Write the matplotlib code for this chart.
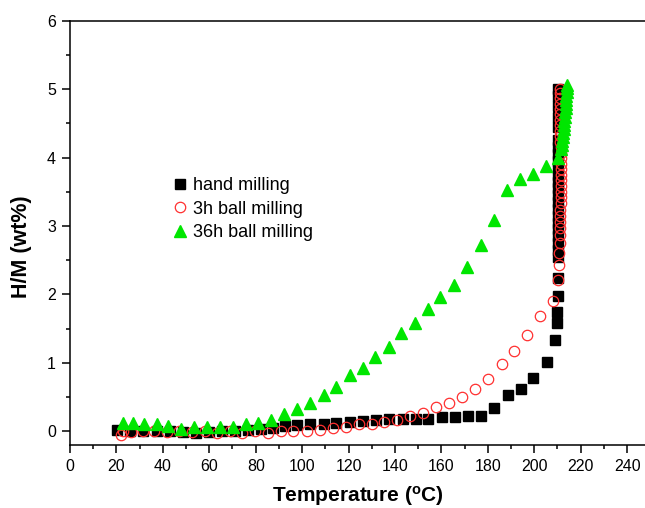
import numpy as np
import matplotlib
matplotlib.use("Agg")
import matplotlib.pyplot as plt
from matplotlib.ticker import MultipleLocator

plt.rcParams["font.family"] = ["Liberation Sans", "DejaVu Sans"]
plt.rcParams["mathtext.fontset"] = "custom"
plt.rcParams["mathtext.rm"] = "Liberation Sans"
plt.rcParams["mathtext.bf"] = "Liberation Sans:bold"

# hand milling (black squares)
hand_T = [20.3, 26.0, 31.6, 37.3, 42.9, 48.5, 54.2, 59.8, 65.5, 71.1, 76.8, 82.4, 87.5,
          92.7, 98.0, 103.6, 109.3, 114.6, 120.6, 126.4, 131.8, 137.6, 143.3, 149.1,
          154.4, 160.1, 165.9, 171.3, 177.1, 182.8, 188.6, 194.2, 199.6, 205.5,
          209.0, 209.7, 210.0, 210.2, 210.2, 210.2, 210.2, 210.2, 210.2, 210.2, 210.2,
          210.2, 210.2, 210.2, 210.2, 210.2, 210.2, 210.2, 210.2, 210.2, 210.2, 210.2,
          210.2, 210.2, 210.2, 210.2, 210.2, 210.2]
hand_HM = [0.02, 0.01, 0.0, 0.0, 0.0, -0.01, -0.02, -0.01, 0.0, 0.01, 0.02, 0.03, 0.05,
           0.08, 0.09, 0.10, 0.11, 0.12, 0.13, 0.15, 0.17, 0.185, 0.185, 0.185,
           0.185, 0.205, 0.205, 0.22, 0.23, 0.34, 0.53, 0.62, 0.78, 1.01,
           1.34, 1.58, 1.74, 1.97, 2.24, 2.55, 2.65, 2.75, 2.85, 2.95, 3.05,
           3.15, 3.25, 3.35, 3.45, 3.55, 3.65, 3.75, 3.85, 3.95, 4.05, 4.15,
           4.25, 4.45, 4.6, 4.75, 4.9, 5.0]

# 3h ball milling (open red circles)
ball3_T = [22.0, 23.0, 26.1, 31.4, 36.4, 41.7, 46.9, 52.4, 58.2, 63.2, 69.1, 74.0, 79.7,
           85.4, 90.9, 96.2, 101.9, 107.7, 113.4, 118.9, 124.5, 130.0, 135.4, 141.0,
           146.5, 152.2, 157.7, 163.3, 169.0, 174.5, 180.2, 186.0, 191.3, 197.0,
           202.5, 208.2, 210.1, 210.6, 210.8, 211.0, 211.1, 211.1, 211.2, 211.2,
           211.2, 211.3, 211.3, 211.3, 211.3, 211.3, 211.3, 211.3, 211.3, 211.3,
           211.3, 211.3, 211.2, 211.2, 211.2, 211.1, 211.1, 211.1, 211.0, 211.0,
           211.0, 211.0, 211.0]
ball3_HM = [-0.05, 0.0, -0.01, 0.0, 0.0, -0.01, 0.0, -0.01, 0.0, -0.02, 0.0, -0.02, 0.0,
            -0.02, 0.0, 0.0, 0.0, 0.02, 0.05, 0.07, 0.10, 0.11, 0.13, 0.17,
            0.22, 0.27, 0.35, 0.42, 0.50, 0.62, 0.76, 0.98, 1.18, 1.41,
            1.68, 1.90, 2.21, 2.43, 2.60, 2.75, 2.87, 2.97, 3.06, 3.14,
            3.23, 3.33, 3.42, 3.50, 3.58, 3.67, 3.75, 3.83, 3.91, 3.99,
            4.07, 4.15, 4.23, 4.31, 4.39, 4.47, 4.55, 4.63, 4.71, 4.79,
            4.87, 4.95, 5.00]

# 36h ball milling (green triangles)
ball36_T = [23.0, 27.0, 32.0, 37.3, 42.4, 47.9, 53.4, 59.2, 64.6, 70.4, 75.8, 81.1,
            86.6, 92.2, 97.7, 103.6, 109.3, 114.8, 120.5, 126.2, 131.5, 137.3, 142.8,
            148.5, 154.1, 159.5, 165.3, 171.0, 176.9, 182.5, 188.2, 194.0, 199.3,
            205.2, 210.4, 211.5, 211.8, 212.0, 212.2, 212.4, 212.6, 212.8, 213.0,
            213.2, 213.3, 213.5, 213.6, 213.7, 213.8, 213.9, 214.0, 214.1]
ball36_HM = [0.12, 0.12, 0.11, 0.11, 0.08, 0.04, 0.07, 0.06, 0.07, 0.07, 0.11, 0.12,
             0.16, 0.26, 0.33, 0.42, 0.53, 0.65, 0.82, 0.93, 1.09, 1.23, 1.44,
             1.59, 1.78, 1.96, 2.14, 2.40, 2.72, 3.09, 3.52, 3.69, 3.76,
             3.88, 3.99, 4.12, 4.18, 4.24, 4.30, 4.36, 4.42, 4.48, 4.54,
             4.60, 4.66, 4.72, 4.78, 4.84, 4.90, 4.96, 5.02, 5.06]

fig = plt.figure(figsize=(6.45, 5.08), dpi=100)
ax = fig.add_axes([70 / 645, 1 - 445 / 508, 1 - 70 / 645, (445 - 20.7) / 508])

ax.plot(hand_T, hand_HM, "s", color="black", markersize=6.5, label="hand milling")
ax.plot(ball3_T, ball3_HM, "o", markerfacecolor="none", markeredgecolor="#ff3030",
        markeredgewidth=0.9, markersize=7.5, label="3h ball milling")
ax.plot(ball36_T, ball36_HM, "^", color="#00e600", markersize=8.5,
        label="36h ball milling")

ax.set_xlim(0, 247.7)
ax.set_ylim(-0.2, 6)
ax.xaxis.set_major_locator(MultipleLocator(20))
ax.xaxis.set_minor_locator(MultipleLocator(10))
ax.yaxis.set_major_locator(MultipleLocator(1))
ax.yaxis.set_minor_locator(MultipleLocator(0.5))
ax.tick_params(which="major", direction="out", length=6, width=1.1, labelsize=11.5, pad=4)
ax.tick_params(which="minor", direction="out", length=3, width=1.1)
ax.spines["right"].set_visible(False)
for s in ("left", "bottom", "top"):
    ax.spines[s].set_linewidth(1.1)

ax.set_xlabel(r"Temperature ($\mathbf{^{o}}$C)", fontsize=15, fontweight="bold")
ax.set_ylabel("H/M (wt%)", fontsize=15.5, fontweight="bold")
ax.yaxis.set_label_coords(-0.066, 0.467)
ax.xaxis.set_label_coords(0.5, -0.093)

ax.legend(loc="upper left", bbox_to_anchor=(0.16, 0.648), frameon=False,
          fontsize=13, handletextpad=0.1, labelspacing=0.35, handlelength=1.2,
          borderaxespad=0)

fig.savefig("out.png", dpi=100)
